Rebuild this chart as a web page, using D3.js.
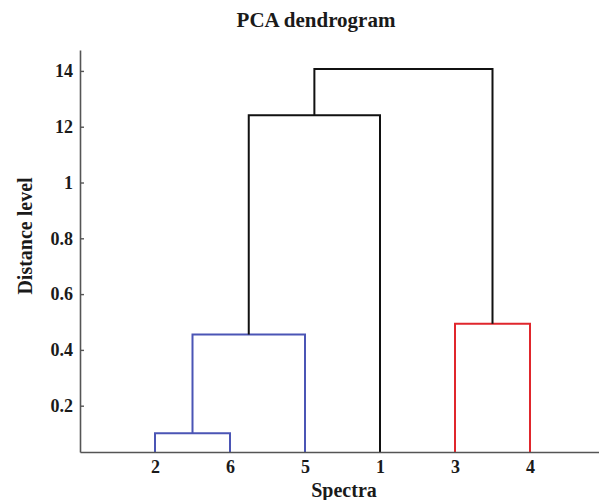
<!DOCTYPE html>
<html lang="en">
<head>
    <meta charset="UTF-8">
    <title>PCA dendrogram</title>
    <script src="https://d3js.org/d3.v7.min.js"></script>
    <style>
        body { margin: 0; background: #fff; overflow: hidden; }
        svg { display: block; }
        text { font-family: "Liberation Serif", "DejaVu Serif", serif; font-weight: bold; fill: #1a1a1a; }
    </style>
</head>
<body>
<div id="my_dataviz"></div>
<script>
    // leaf order along the x axis
    var leaves = ["2", "6", "5", "1", "3", "4"];

    // merges: left child, right child, height, cluster colour
    var mergeLeft   = ["2",    "c1",   "c2",   "3",    "c3"];
    var mergeRight  = ["6",    "5",    "1",    "4",    "c4"];
    var mergeHeight = [0.101,  0.455,  1.241,  0.494,  1.407];
    var mergeColor  = ["#4b55b5", "#4b55b5", "#111", "#e0262c", "#111"];

    // y tick values and the labels as printed
    var yTicks  = [0.2, 0.4, 0.6, 0.8, 1, 1.2, 1.4];
    var yLabels = ["0.2", "0.4", "0.6", "0.8", "1", "12", "14"];

    var W = 599, H = 500;

    var svg = d3.select("#my_dataviz").append("svg")
        .attr("width", W).attr("height", H);

    var x = d3.scaleLinear().domain([0, leaves.length + 1]).range([80, 605]);
    var y = d3.scaleLinear().domain([0.034, 1.475]).range([452, 50]);

    // node positions: leaves first
    var pos = {};
    leaves.forEach(function(l, i) { pos[l] = {x: x(i + 1), h: y.domain()[0]}; });

    var links = [];
    mergeLeft.forEach(function(a, i) {
        var b = mergeRight[i], h = mergeHeight[i];
        var pa = pos[a], pb = pos[b];
        links.push({a: pa, b: pb, h: h, color: mergeColor[i]});
        pos["c" + (i + 1)] = {x: (pa.x + pb.x) / 2, h: h};
    });

    svg.append("g").selectAll("path")
        .data(links)
        .enter().append("path")
        .attr("d", function(d) {
            return "M" + d.a.x + "," + y(d.a.h) +
                "V" + y(d.h) + "H" + d.b.x + "V" + y(d.b.h);
        })
        .attr("fill", "none")
        .attr("stroke", function(d) { return d.color; })
        .attr("stroke-width", 2);

    // Y axis
    var yAxis = svg.append("g")
        .attr("transform", "translate(80,0)")
        .call(d3.axisLeft(y)
            .tickValues(yTicks)
            .tickFormat(function(d, i) { return yLabels[i]; })
            .tickSizeInner(-4).tickSizeOuter(0).tickPadding(7));

    // X axis
    var xAxis = svg.append("g")
        .attr("transform", "translate(0,452)")
        .call(d3.axisBottom(x)
            .tickValues(leaves.map(function(l, i) { return i + 1; }))
            .tickFormat(function(d) { return leaves[d - 1]; })
            .tickSize(0).tickPadding(8));

    [yAxis, xAxis].forEach(function(g) {
        g.select(".domain").attr("stroke", "#555").attr("stroke-width", 1.6);
        g.selectAll(".tick line").attr("stroke", "#555").attr("stroke-width", 1.4);
        g.selectAll("text").attr("font-size", 18)
            .attr("font-family", "Liberation Serif, serif").attr("font-weight", "bold").attr("fill", "#1a1a1a");
    });

    svg.append("text")
        .attr("x", 316).attr("y", 27)
        .attr("text-anchor", "middle").attr("font-size", 21)
        .text("PCA dendrogram");

    svg.append("text")
        .attr("x", 344).attr("y", 497)
        .attr("text-anchor", "middle").attr("font-size", 20)
        .text("Spectra");

    svg.append("text")
        .attr("transform", "translate(32,236) rotate(-90)")
        .attr("text-anchor", "middle").attr("font-size", 20)
        .text("Distance level");
</script>
</body>
</html>
